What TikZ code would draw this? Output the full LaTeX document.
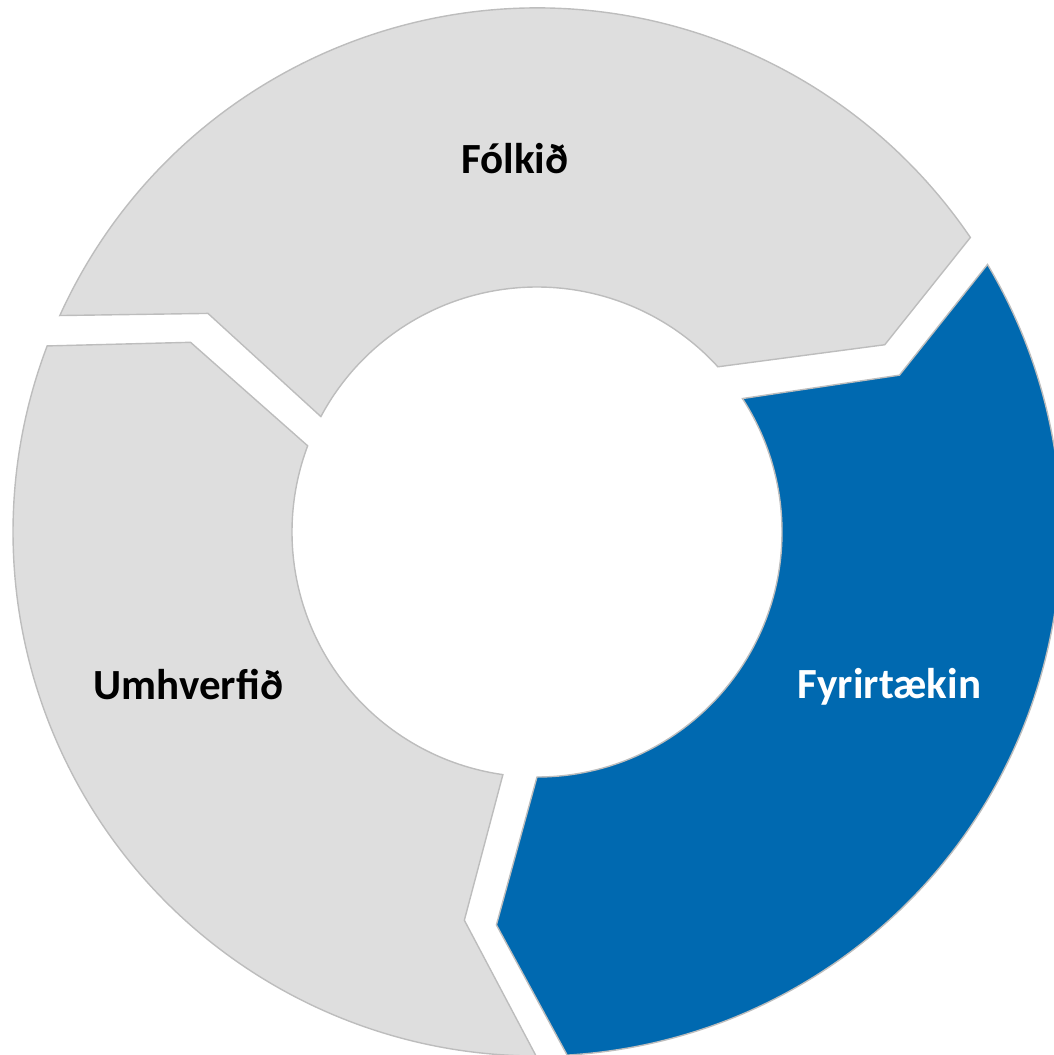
\documentclass[tikz,border=0pt]{standalone}
\usepackage{fontspec}
\setmainfont{Carlito}
\definecolor{segGray}{HTML}{DEDEDE}
\definecolor{segLine}{HTML}{BDBDBD}
\definecolor{segBlue}{HTML}{0069B0}
\begin{document}
\begin{tikzpicture}[x=1pt,y=1pt,
  seg/.style={draw=segLine, line width=1.4pt, line join=miter},
  lbl/.style={font=\fontsize{43}{50}\selectfont\bfseries, anchor=base, inner sep=0pt}]
\useasboundingbox (-537,-523) rectangle (517,532);
\def\Ro{524}
\def\Ri{245}
\def\Rm{395}
% Folkid (top)
\path[seg, fill=segGray] (155.6:\Ro pt) arc[start angle=155.6, end angle=34.2, radius=\Ro pt]
  -- (28.3:\Rm pt) -- (42.4:\Ri pt) arc[start angle=42.4, end angle=151.9, radius=\Ri pt]
  -- (146.4:\Rm pt) -- cycle;
% Fyrirtaekin (right)
\path[seg, fill=segBlue] (30.7:\Ro pt) arc[start angle=30.7, end angle=-86.7, radius=\Ro pt]
  -- (-95.9:\Rm pt) -- (-90:\Ri pt) arc[start angle=-90, end angle=33.0, radius=\Ri pt]
  -- (23.4:\Rm pt) -- cycle;
% Umhverfid (left)
\path[seg, fill=segGray] (269.9:\Ro pt) arc[start angle=269.9, end angle=159.2, radius=\Ro pt]
  -- (151.3:\Rm pt) -- (159.4:\Ri pt) arc[start angle=159.4, end angle=262.0, radius=\Ri pt]
  -- (259.4:\Rm pt) -- cycle;
\node[lbl, text=black] (folkid) at (-22,358) {Fólkið};
\node[lbl, text=black] (umhverfid) at (-348.5,-167) {Umhverfið};
\node[lbl, text=white] (fyrirtaekin) at (352.5,-166) {Fyrirtækin};
\end{tikzpicture}
\end{document}
